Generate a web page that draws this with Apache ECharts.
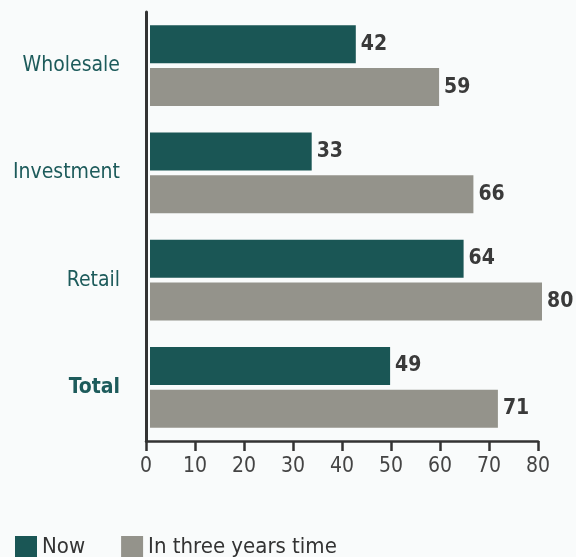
<!DOCTYPE html>
<html><head><meta charset="utf-8">
<script src="https://cdn.jsdelivr.net/npm/echarts@6/dist/echarts.min.js"></script>
<style>html,body{margin:0;padding:0;background:#f9fbfb}#c{width:576px;height:557px}</style>
</head><body><div id="c"></div>
<script>
const categories = ['Wholesale', 'Investment', 'Retail', 'Total'];
const nowValues = [42, 33, 64, 49];
const futureValues = [59, 66, 80, 71];
const xTicks = [0, 10, 20, 30, 40, 50, 60, 70, 80];
const seriesNames = ['Now', 'In three years time'];

const FONT = '"DejaVu Sans Condensed", "DejaVu Sans", sans-serif';
const chart = echarts.init(document.getElementById('c'));
const labelCfg = {show: true, position: 'right', distance: 5, color: '#3a3a3a', fontSize: 21, fontWeight: 'bold', fontFamily: FONT};
chart.setOption({
  backgroundColor: '#f9fbfb',
  animation: false,
  textStyle: {fontFamily: FONT},
  legend: {
    left: 10, bottom: -6, itemWidth: 22, itemHeight: 22, itemGap: 36,
    icon: 'rect',
    textStyle: {fontSize: 22, color: '#333', fontFamily: FONT},
    data: seriesNames
  },
  grid: [
    {left: 146, right: 38, top: 12, height: 429},
    {left: 150, right: 34, top: 12, height: 429}
  ],
  xAxis: [
    {gridIndex: 0, type: 'value', min: xTicks[0], max: xTicks[xTicks.length-1], interval: 10,
     axisLine: {show: true, lineStyle: {color: '#333', width: 2.5}},
     axisTick: {show: true, length: 10, lineStyle: {color: '#333', width: 2.5}},
     axisLabel: {fontSize: 21, color: '#444', margin: 15, fontFamily: FONT},
     splitLine: {show: false}},
    {gridIndex: 1, type: 'value', min: 0, max: 80, show: false, splitLine: {show: false}}
  ],
  yAxis: [
    {gridIndex: 0, type: 'category', data: categories, inverse: true,
     axisLine: {show: true, lineStyle: {color: '#333', width: 3}},
     axisTick: {show: false},
     axisLabel: {margin: 26, fontSize: 21, color: '#1d5b5b', fontFamily: FONT,
       formatter: v => v === 'Total' ? '{b|' + v + '}' : v,
       rich: {b: {fontWeight: 'bold', fontSize: 21, color: '#1d5b5b', fontFamily: FONT}}}},
    {gridIndex: 1, type: 'category', data: categories, inverse: true, show: false}
  ],
  series: [
    {name: seriesNames[0], type: 'bar', xAxisIndex: 1, yAxisIndex: 1, data: nowValues,
     barWidth: 38, barGap: '13%', itemStyle: {color: '#1a5655'}, label: labelCfg},
    {name: seriesNames[1], type: 'bar', xAxisIndex: 1, yAxisIndex: 1, data: futureValues,
     barWidth: 38, barGap: '13%', itemStyle: {color: '#94938b'}, label: labelCfg}
  ]
});
</script></body></html>
